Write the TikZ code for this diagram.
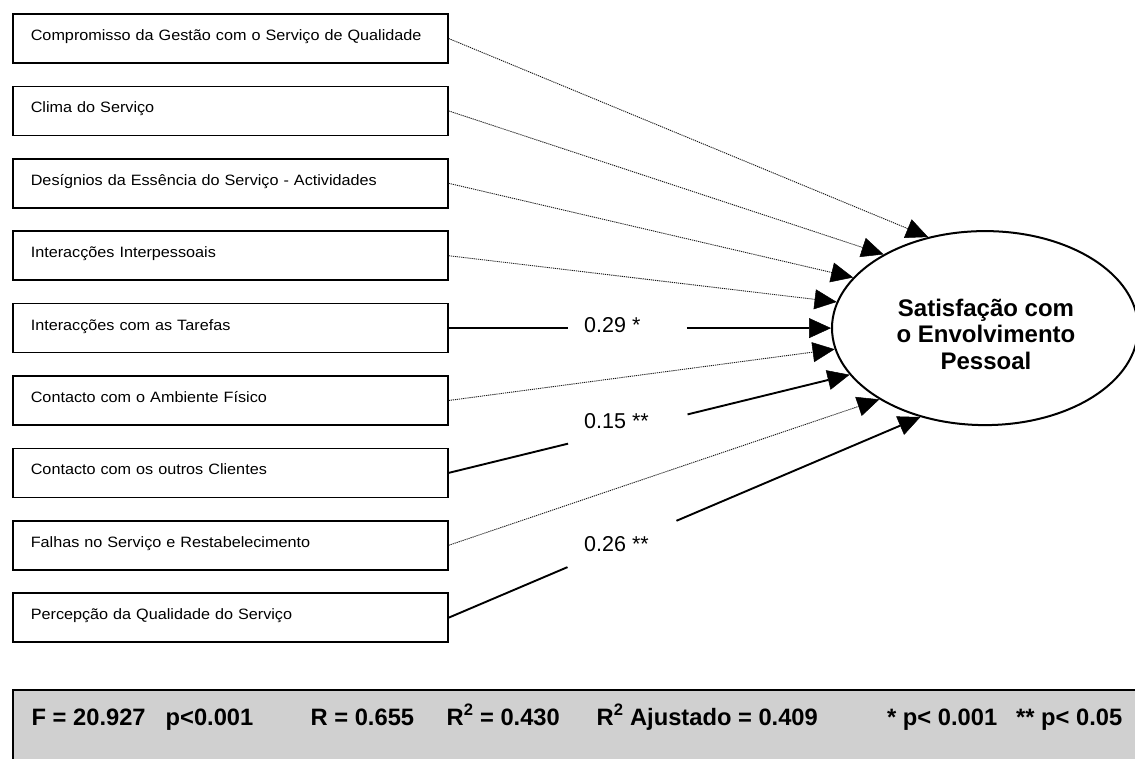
\documentclass[tikz,border=0pt]{standalone}
\usepackage{fontspec}
\setmainfont{Liberation Sans}
\newfontfamily\boxfont[FakeStretch=1.08]{Liberation Sans}
\usetikzlibrary{arrows.meta,shapes.geometric,calc}
\definecolor{panelgray}{RGB}{208,208,208}

\begin{document}
\begin{tikzpicture}[x=1pt,y=-1pt,
  factor/.style={draw, line width=1.6pt, rectangle, anchor=west,
    minimum height=49pt, text width=399pt, inner xsep=18pt, inner ysep=0pt,
    align=left, text height=7pt, text depth=3pt,
    font=\boxfont\fontsize{15}{17}\selectfont},
  outcome/.style={ellipse, draw, line width=2pt, minimum width=306pt,
    minimum height=194pt, inner sep=0pt},
  outcometext/.style={align=center, inner sep=0pt,
    font=\bfseries\fontsize{24}{26.5}\selectfont},
  tip/.style={-{Triangle[length=22pt,width=20pt,color=black,line width=0.5pt]}},
  weakpath/.style={tip, line width=0.9pt, black!90, dash pattern=on 1.2pt off 0.9pt},
  strongpath/.style={line width=1.9pt, black},
  coef/.style={anchor=base west, inner sep=0pt, font=\fontsize{21.5}{24}\selectfont},
  stat/.style={anchor=base west, inner sep=0pt, font=\bfseries\fontsize{23.7}{26}\selectfont}]

\useasboundingbox (0,0) rectangle (1135,759);

% predictor boxes
\node[factor] (b1) at (12, 38.5)  {Compromisso da Gestão com o Serviço de Qualidade};
\node[factor] (b2) at (12,110.9)  {Clima do Serviço};
\node[factor] (b3) at (12,183.3)  {Desígnios da Essência do Serviço - Actividades};
\node[factor] (b4) at (12,255.7)  {Interacções Interpessoais};
\node[factor] (b5) at (12,328.1)  {Interacções com as Tarefas};
\node[factor] (b6) at (12,400.5)  {Contacto com o Ambiente Físico};
\node[factor] (b7) at (12,472.9)  {Contacto com os outros Clientes};
\node[factor] (b8) at (12,545.3)  {Falhas no Serviço e Restabelecimento};
\node[factor] (b9) at (12,617.7)  {Percepção da Qualidade do Serviço};

% outcome
\node[outcome] (ell) at (985,328.1) {};
\node[outcometext] (ellt) at (986,334) {Satisfação com\\o Envolvimento\\Pessoal};

% non-significant paths
\draw[weakpath] (b1.east) -- (ell.122);
\draw[weakpath] (b2.east) -- (ell.144);
\draw[weakpath] (b3.east) -- (ell.159);
\draw[weakpath] (b4.east) -- (ell.170);
\draw[weakpath] (b6.east) -- (ell.188);
\draw[weakpath] (b8.east) -- (ell.214);

% significant paths, broken around their coefficients
\path (b5.east) -- (ell.west) coordinate[pos=0.312] (g5a) coordinate[pos=0.623] (g5b);
\draw[strongpath] (b5.east) -- (g5a);
\draw[strongpath, tip] (g5b) -- (ell.west);

\path (b7.east) -- (ell.199) coordinate[pos=0.298] (g7a) coordinate[pos=0.596] (g7b);
\draw[strongpath] (b7.east) -- (g7a);
\draw[strongpath, tip] (g7b) -- (ell.199);

\path (b9.east) -- (ell.234.5) coordinate[pos=0.252] (g9a) coordinate[pos=0.483] (g9b);
\draw[strongpath] (b9.east) -- (g9a);
\draw[strongpath, tip] (g9b) -- (ell.234.5);

\node[coef] (c5) at (584,333) {0.29 *};
\node[coef] (c7) at (584,428) {0.15 **};
\node[coef] (c9) at (584,551) {0.26 **};

% model summary panel
\draw[line width=1.8pt, fill=panelgray] (13,690) rectangle (1160,790);
\node[stat] (s1) at (31.5,725)  {F = 20.927};
\node[stat] (s2) at (165.5,725) {p<0.001};
\node[stat] (s3) at (310.5,725) {R = 0.655};
\node[stat] (s4) at (446.5,725) {R\textsuperscript{2} = 0.430};
\node[stat] (s5) at (596.5,725) {R\textsuperscript{2} Ajustado = 0.409};
\node[stat] (s6) at (887,725)   {* p< 0.001};
\node[stat] (s7) at (1016,725)  {** p< 0.05};
\end{tikzpicture}
\end{document}
